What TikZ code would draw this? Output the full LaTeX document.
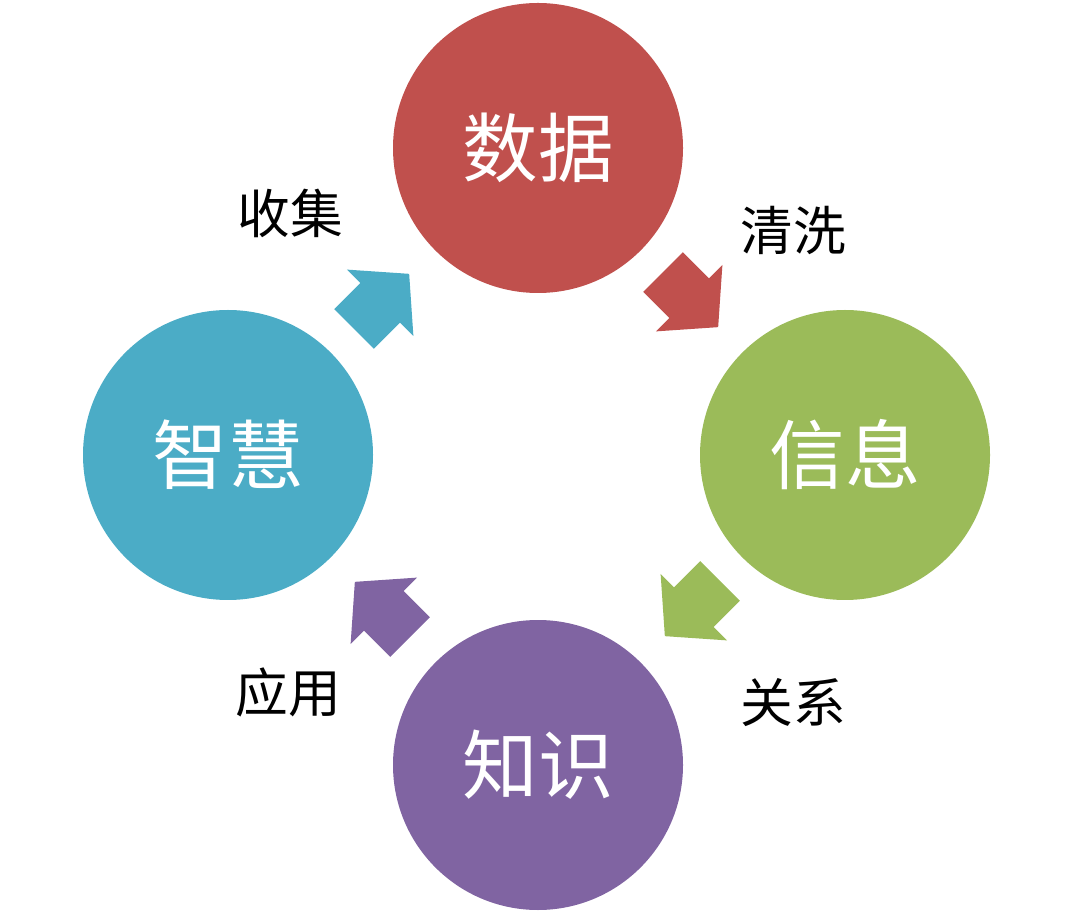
\documentclass[tikz,border=0pt]{standalone}
\usepackage{fontspec}
\newfontfamily\cjk{Noto Sans CJK SC}
\definecolor{datared}{HTML}{C0504D}
\definecolor{infogreen}{HTML}{9BBB59}
\definecolor{knowpurple}{HTML}{8064A2}
\definecolor{wiseblue}{HTML}{4BACC6}
\tikzset{
  stage/.style={circle, minimum size=2.9cm, inner sep=0pt, text=white,
    font=\cjk\fontsize{21.5}{21.5}\selectfont},
  action/.style={font=\cjk\fontsize{15}{15}\selectfont},
  pics/blockarrow/.style={code={
    \fill[#1] (0,-0.28) -- (0.37,-0.28) -- (0.37,-0.47) -- (0.78,0)
      -- (0.37,0.47) -- (0.37,0.28) -- (0,0.28) -- cycle;}}
}
\begin{document}
\begin{tikzpicture}[scale=1]
        % \draw[help lines, gray!50, very thin] (0,0) grid (10.8,9.12);
        \useasboundingbox (0,0) rectangle (10.8,9.12);

        \node[stage, fill=datared] (data) at (5.38,7.64) {数据};
        \node[stage, fill=infogreen] (info) at (8.45,4.57) {信息};
        \node[stage, fill=knowpurple] (know) at (5.38,1.47) {知识};
        \node[stage, fill=wiseblue] (wise) at (2.28,4.57) {智慧};

        \pic[rotate=-45] (clean) at (6.63,6.40) {blockarrow=datared};
        \node[action] (cleanlbl) at (7.93,6.82) {清洗};

        \pic[rotate=-135] (relate) at (7.20,3.31) {blockarrow=infogreen};
        \node[action] (relatelbl) at (7.93,2.09) {关系};

        \pic[rotate=135] (apply) at (4.10,2.75) {blockarrow=knowpurple};
        \node[action] (applylbl) at (2.88,2.20) {应用};

        \pic[rotate=45] (collect) at (3.54,5.83) {blockarrow=wiseblue};
        \node[action] (collectlbl) at (2.90,6.99) {收集};
      \end{tikzpicture}
\end{document}
